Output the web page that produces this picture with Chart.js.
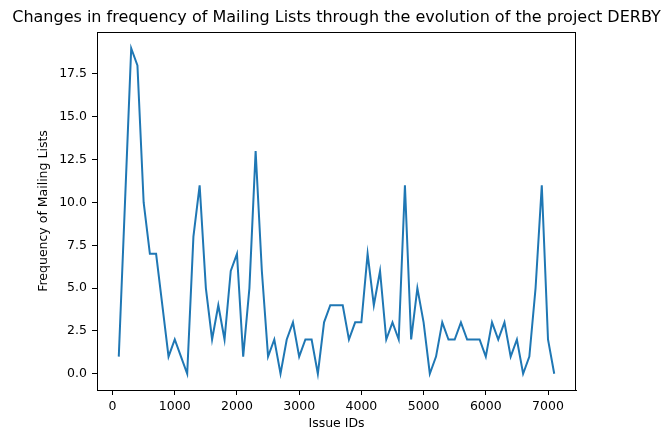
<!DOCTYPE html>
<html>
<head>
<meta charset="utf-8">
<script src="https://cdn.jsdelivr.net/npm/chart.js@4.4.1/dist/chart.umd.min.js"></script>
<style>
  html, body { margin: 0; padding: 0; background: #fff; }
  #wrap { width: 663px; height: 433px; }
</style>
</head>
<body>
<div id="wrap"><canvas id="c" width="663" height="433"></canvas></div>
<script>
const chartTitle = "Changes in frequency of Mailing Lists through the evolution of the project DERBY";
const xLabel = "Issue IDs";
const yLabel = "Frequency of Mailing Lists";

const issueIds = [100, 200, 300, 400, 500, 600, 700, 800, 900, 1000,
  1100, 1200, 1300, 1400, 1500, 1600, 1700, 1800, 1900, 2000,
  2100, 2200, 2300, 2400, 2500, 2600, 2700, 2800, 2900, 3000,
  3100, 3200, 3300, 3400, 3500, 3600, 3700, 3800, 3900, 4000,
  4100, 4200, 4300, 4400, 4500, 4600, 4700, 4800, 4900, 5000,
  5100, 5200, 5300, 5400, 5500, 5600, 5700, 5800, 5900, 6000,
  6100, 6200, 6300, 6400, 6500, 6600, 6700, 6800, 6900, 7000, 7100];

const frequency = [1, 10, 19, 18, 10, 7, 7, 4, 1, 2,
  1, 0, 8, 11, 5, 2, 4, 2, 6, 7,
  1, 5, 13, 6, 1, 2, 0, 2, 3, 1,
  2, 2, 0, 3, 4, 4, 4, 2, 3, 3,
  7, 4, 6, 2, 3, 2, 11, 2, 5, 3,
  0, 1, 3, 2, 2, 3, 2, 2, 2, 1,
  3, 2, 3, 1, 2, 0, 1, 5, 11, 2, 0];

const xTicks = [0, 1000, 2000, 3000, 4000, 5000, 6000, 7000];
const yTicks = [0, 2.5, 5, 7.5, 10, 12.5, 15, 17.5];

const FONT = "'DejaVu Sans', sans-serif";

const framePlugin = {
  id: 'frame',
  afterDraw(chart) {
    const {ctx, chartArea: a} = chart;
    ctx.save();
    ctx.strokeStyle = '#000';
    ctx.lineWidth = 1;
    ctx.strokeRect(Math.round(a.left) + 0.5, Math.round(a.top) + 0.5,
                   Math.round(a.right - a.left) - 1, Math.round(a.bottom - a.top));
    ctx.restore();
  }
};

const titlePlugin = {
  id: 'mplTitle',
  afterDraw(chart) {
    const {ctx, chartArea: a} = chart;
    ctx.save();
    ctx.fillStyle = '#000';
    ctx.font = "16px " + FONT;
    ctx.textAlign = 'center';
    ctx.textBaseline = 'middle';
    ctx.fillText(chartTitle, (a.left + a.right) / 2, 18);
    ctx.restore();
  }
};

new Chart(document.getElementById('c'), {
  type: 'line',
  data: {
    datasets: [{
      data: issueIds.map((x, i) => ({x: x, y: frequency[i]})),
      borderColor: '#1f77b4',
      borderWidth: 2,
      pointRadius: 0,
      tension: 0,
      fill: false
    }]
  },
  options: {
    responsive: false,
    animation: false,
    events: [],
    layout: { padding: { top: 32, right: 87, bottom: 0, left: 0 } },
    plugins: {
      legend: { display: false },
      title: { display: false },
      tooltip: { enabled: false }
    },
    scales: {
      x: {
        type: 'linear',
        min: -250,
        max: 7450,
        afterFit(scale) { scale.height = 43; },
        afterBuildTicks(scale) { scale.ticks = xTicks.map(v => ({value: v})); },
        grid: { display: true, drawOnChartArea: false, drawTicks: true, tickLength: 5, tickColor: '#000', tickWidth: 1 },
        border: { display: true, color: '#000', width: 1 },
        ticks: {
          color: '#000',
          font: { family: FONT, size: 12.5 },
          padding: 4,
          maxRotation: 0,
          autoSkip: false,
          callback: (v) => String(v)
        },
        title: {
          display: true,
          text: xLabel,
          color: '#000',
          font: { family: FONT, size: 12.5 },
          padding: { top: 0, bottom: 1.5 }
        }
      },
      y: {
        type: 'linear',
        min: -0.95,
        max: 19.95,
        afterFit(scale) { scale.width = 97; },
        afterBuildTicks(scale) { scale.ticks = yTicks.map(v => ({value: v})); },
        grid: { display: true, drawOnChartArea: false, drawTicks: true, tickLength: 5, tickColor: '#000', tickWidth: 1 },
        border: { display: true, color: '#000', width: 1 },
        ticks: {
          color: '#000',
          font: { family: FONT, size: 12.5 },
          padding: 5,
          autoSkip: false,
          callback: (v) => Number(v).toFixed(1)
        },
        title: {
          display: true,
          text: yLabel,
          color: '#000',
          font: { family: FONT, size: 12.5 },
          padding: { top: 36, bottom: 0 }
        }
      }
    }
  },
  plugins: [framePlugin, titlePlugin]
});
</script>
</body>
</html>
